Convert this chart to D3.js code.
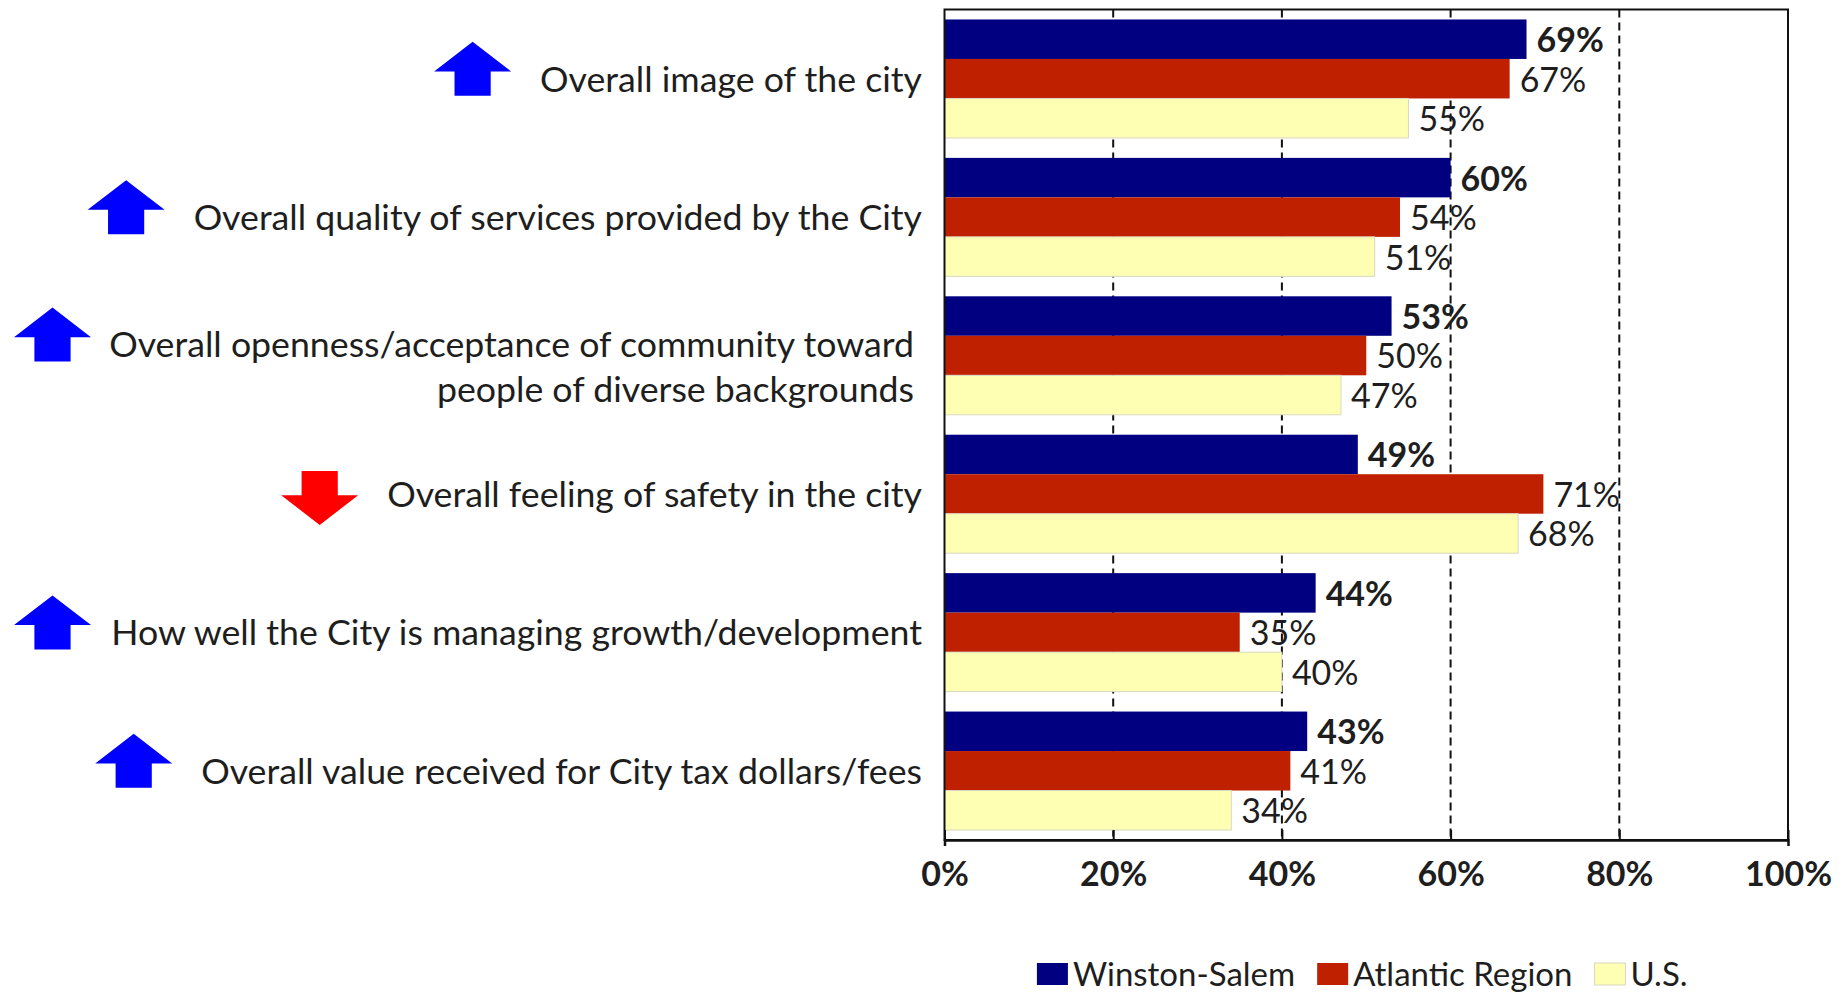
<!DOCTYPE html>
<html>
<head>
<meta charset="utf-8">
<script src="https://cdn.jsdelivr.net/npm/d3@7"></script>
<style>
  html, body { margin: 0; padding: 0; background: #fff; }
  svg { display: block; }
  text { font-family: Lato, "Open Sans", sans-serif; fill: #1e1e1e; }
</style>
</head>
<body>
<svg id="chart" width="1842" height="995"></svg>
<script>
// ---- data ----
const categories = [
  "Overall image of the city",
  "Overall quality of services provided by the City",
  "Overall openness/acceptance of community toward\npeople of diverse backgrounds",
  "Overall feeling of safety in the city",
  "How well the City is managing growth/development",
  "Overall value received for City tax dollars/fees"
];
const seriesNames = ["Winston-Salem", "Atlantic Region", "U.S."];
const winstonSalem   = [69, 60, 53, 49, 44, 43];
const atlanticRegion = [67, 54, 50, 71, 35, 41];
const usValues       = [55, 51, 47, 68, 40, 34];
const trend = ["up", "up", "up", "down", "up", "up"];
const xTickValues = [0, 20, 40, 60, 80, 100];
const seriesColors = ["#000080", "#BF2000", "#FFFFB3"];

const seriesValues = [winstonSalem, atlanticRegion, usValues];

// ---- layout ----
const svg = d3.select("#chart");
const plot = { left: 944.5, right: 1788, top: 9.5, bottom: 840 };

const x = d3.scaleLinear().domain([0, 100]).range([plot.left, plot.right]);
const y = d3.scaleBand().domain(d3.range(categories.length))
  .range([plot.top, plot.bottom]).paddingInner(0.144).paddingOuter(0.072);
const ys = d3.scaleBand().domain(d3.range(seriesNames.length))
  .range([0, y.bandwidth()]).padding(0);

// gridlines (dashed)
svg.append("g").selectAll("line")
  .data(xTickValues.filter(d => d > 0 && d < 100))
  .join("line")
  .attr("x1", d => x(d)).attr("x2", d => x(d))
  .attr("y1", plot.top).attr("y2", plot.bottom)
  .attr("stroke", "#111").attr("stroke-width", 2)
  .attr("stroke-dasharray", "8,5");

// bars
const groups = svg.append("g").selectAll("g")
  .data(categories.map((c, i) => i))
  .join("g")
  .attr("transform", i => `translate(0,${y(i)})`);

groups.selectAll("rect")
  .data(i => seriesValues.map((vals, s) => ({ s, v: vals[i] })))
  .join("rect")
  .attr("x", x(0))
  .attr("y", d => ys(d.s))
  .attr("width", d => x(d.v) - x(0))
  .attr("height", ys.bandwidth())
  .attr("fill", d => seriesColors[d.s])
  .attr("stroke", d => d.s === 2 ? "#d8d8c0" : "none")
  .attr("stroke-width", 1);

// value labels
groups.selectAll("text.val")
  .data(i => seriesValues.map((vals, s) => ({ s, v: vals[i] })))
  .join("text")
  .attr("class", "val")
  .attr("x", d => x(d.v) + 10)
  .attr("y", d => ys(d.s) + ys.bandwidth() / 2)
  .attr("dy", "0.38em")
  .attr("font-size", 34)
  .attr("font-weight", d => d.s === 0 ? 700 : 400)
  .text(d => d.v + "%");

// plot frame
svg.append("rect")
  .attr("x", plot.left).attr("y", plot.top)
  .attr("width", plot.right - plot.left).attr("height", plot.bottom - plot.top)
  .attr("fill", "none").attr("stroke", "#111").attr("stroke-width", 2);

// bottom axis
const xAxis = d3.axisBottom(x).tickValues(xTickValues)
  .tickFormat(d => d + "%").tickSizeInner(-10).tickSizeOuter(6).tickPadding(22);
const ax = svg.append("g").attr("transform", `translate(0,${plot.bottom})`).call(xAxis);
ax.select(".domain").attr("stroke", "#111").attr("stroke-width", 2.5);
ax.selectAll(".tick line").attr("stroke", "#111").attr("stroke-width", 2);
ax.selectAll(".tick text")
  .attr("font-family", "Lato, sans-serif")
  .attr("font-size", 34).attr("font-weight", 700).attr("fill", "#111");

// category labels + trend arrows
const labelX = 922;
const lineH = 44.5;
const arrowW = 77, arrowH = 54;

categories.forEach((cat, i) => {
  const lines = cat.split("\n");
  const cy = y(i) + y.bandwidth() / 2;
  const y0 = cy - (lines.length - 1) * 11;
  const t = svg.append("text")
    .attr("text-anchor", "end")
    .attr("font-size", 35.7);
  lines.forEach((ln, k) => {
    t.append("tspan").attr("x", lines.length > 1 ? labelX - 8 : labelX).attr("y", y0 + k * lineH)
      .attr("dy", "0.36em").text(ln);
  });
  const bb = t.node().getBBox();
  const left = Math.max(14, bb.x - 29 - arrowW);
  const up = trend[i] === "up";
  const acy = up ? y0 - 10 : y0 + 4;
  const top = acy - arrowH / 2;
  const headH = arrowH * 0.55;
  const shaft = arrowW * 0.47;
  const cx = left + arrowW / 2;
  let p;
  if (up) {
    p = [[cx, top], [left + arrowW, top + headH], [cx + shaft / 2, top + headH],
         [cx + shaft / 2, top + arrowH], [cx - shaft / 2, top + arrowH],
         [cx - shaft / 2, top + headH], [left, top + headH]];
  } else {
    const bot = top + arrowH;
    p = [[cx, bot], [left + arrowW, bot - headH], [cx + shaft / 2, bot - headH],
         [cx + shaft / 2, top], [cx - shaft / 2, top],
         [cx - shaft / 2, bot - headH], [left, bot - headH]];
  }
  svg.append("path")
    .attr("d", d3.line()(p) + "Z")
    .attr("fill", up ? "#0000FF" : "#FF0000");
});

// legend
const legend = svg.append("g");
const sw = 31, sh = 22, legY = 974;
let cursor = 0;
seriesNames.forEach((name, s) => {
  const g = legend.append("g");
  g.append("rect").attr("x", cursor).attr("y", legY - sh / 2)
    .attr("width", sw).attr("height", sh).attr("fill", seriesColors[s])
    .attr("stroke", s === 2 ? "#d8d8c0" : "none");
  const tx = g.append("text").attr("x", cursor + sw + 5).attr("y", legY)
    .attr("dy", "0.35em").attr("font-size", 33).text(name);
  const w = tx.node().getComputedTextLength();
  cursor += sw + 5 + w + 22;
});
const totalW = cursor - 22;
legend.attr("transform", `translate(${(plot.left + plot.right) / 2 - totalW / 2 - 4},0)`);
</script>
</body>
</html>
